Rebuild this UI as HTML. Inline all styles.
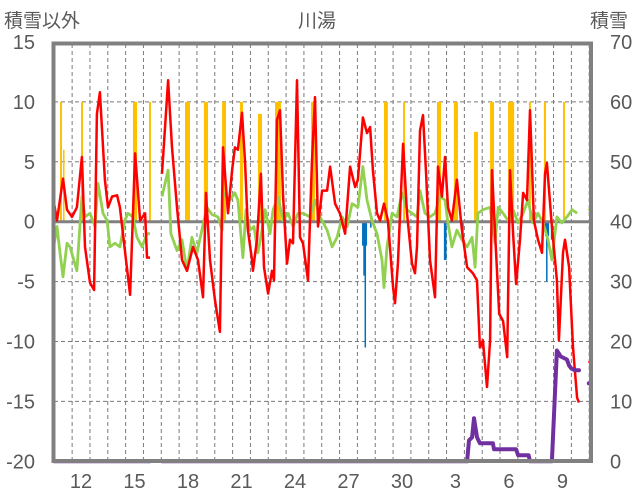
<!DOCTYPE html>
<html><head><meta charset="utf-8"><style>
html,body{margin:0;padding:0;background:#fff;}
svg{display:block;font-family:"Liberation Sans","Noto Sans CJK JP",sans-serif;}
</style></head><body>
<svg id="chart" width="636" height="501" viewBox="0 0 636 501"></svg>
<script>
// ---- data ----
const xTickLabels = ["12","15","18","21","24","27","30","3","6","9"];
const leftTicks = [15,10,5,0,-5,-10,-15,-20];
const rightTicks = [70,60,50,40,30,20,10,0];
const redT = [0,0.15,0.49,0.71,0.99,1.27,1.55,1.72,2.0,2.23,2.39,2.56,2.84,3.01,3.24,3.52,3.68,4.02,4.25,4.53,4.81,5.09,5.20,5.37,null,6.04,6.38,6.60,6.88,7.16,7.44,7.78,8.06,8.34,8.51,8.73,9.01,9.29,9.46,9.74,9.97,10.13,10.30,10.53,10.70,10.86,11.09,11.14,11.37,11.59,11.76,11.99,12.21,12.32,12.49,12.66,12.83,13.05,13.22,13.39,13.61,13.78,13.95,14.23,14.45,14.62,14.79,15.02,15.30,15.47,15.75,16.02,16.31,16.59,16.87,17.03,17.31,17.54,17.71,17.87,18.10,18.27,18.49,18.71,19.00,19.11,19.27,19.56,19.78,20.06,20.23,20.34,20.51,20.68,20.85,21.07,21.35,21.52,21.74,21.91,22.08,22.30,22.58,22.86,23.15,23.48,23.71,23.87,24.04,24.27,24.44,24.55,24.72,24.95,25.17,25.40,25.56,25.73,25.90,26.12,26.29,26.51,26.68,26.90,27.13,27.35,27.52,27.63,27.91,28.19,28.30,28.53,28.64,28.87,29.09,29.32,29.43,null,29.99,30.16];
const redV = [1.4,0.1,3.6,1.0,0.4,1.2,5.4,-2.1,-5.1,-5.7,9.0,10.8,3.5,1.2,2.1,2.2,1.2,-3.2,-6.1,5.7,0.1,0.7,-3.0,-3.0,null,4.0,11.8,6.2,1.2,-3.2,-4.1,-2.1,-3.2,-6.3,2.4,-3.2,-6.5,-9.2,6.2,0.7,4.3,6.2,6.0,9.1,4.9,-0.7,-3.2,-4.1,-1.5,4.0,-3.8,-6.0,-4.1,-4.9,8.5,9.3,2.1,-3.5,-1.5,-1.8,11.8,-1.3,-1.8,-4.9,4.9,10.4,-0.4,2.6,2.6,4.6,1.5,0.7,-1.0,4.6,2.9,3.5,8.7,7.4,7.9,4.3,0.7,0.1,1.5,0.1,-5.5,-6.8,-3.5,6.5,0.7,-3.5,-4.3,-2.1,7.6,8.9,4.0,-3.2,-6.3,4.6,2.1,5.4,1.2,0.1,3.5,-0.7,-3.8,-4.3,-4.9,-10.5,-9.9,-13.8,-9.9,4.3,-1.0,-7.7,-8.3,-11.3,4.3,-1.0,-5.2,-1.5,2.4,1.8,9.3,0.1,-1.5,-2.6,4.0,4.9,-0.4,-4.9,-9.9,-2.6,-1.5,-3.8,-10.5,-14.7,-15.1,null,-11.8,-11.3];
const greenT = [0,0.15,0.32,0.49,0.71,0.88,1.27,1.55,1.72,2.0,2.28,2.45,2.73,2.96,3.12,3.40,3.68,3.96,4.13,4.41,4.64,4.92,5.20,5.37,null,6.04,6.38,6.54,6.88,7.16,7.44,7.72,8.00,8.28,8.56,8.84,9.18,9.41,9.46,9.85,10.13,10.30,10.58,10.75,10.98,11.20,11.42,11.65,11.82,12.10,12.27,12.55,12.83,13.11,13.39,13.67,13.95,14.34,14.62,14.90,15.30,15.58,15.86,16.14,16.42,16.70,17.03,17.31,17.54,17.82,18.10,18.38,18.49,18.66,18.94,19.22,19.50,19.78,20.06,20.34,20.51,20.79,21.07,21.35,21.63,21.91,22.08,22.30,22.58,22.86,23.15,23.43,23.60,23.76,24.04,24.44,24.72,24.89,25.17,25.45,25.73,26.01,26.29,26.57,26.85,27.13,27.41,27.69,27.91,28.19,28.47,28.75,29.04,29.32,null,30.0,30.08];
const greenV = [-1.8,-0.4,-2.6,-4.6,-1.8,-2.1,-4.1,2.1,0.4,0.7,-0.4,3.2,0.7,0.1,-2.1,-1.8,-2.1,0.1,0.7,0.4,-1.3,-2.1,-1.0,-1.0,null,2.1,4.3,-1.0,-2.4,-1.5,-4.1,-1.3,-2.6,-0.7,1.2,0.6,0.4,-0.7,2.4,1.8,2.4,1.8,-3.0,1.0,-0.7,-0.4,-2.6,-0.7,1.0,-1.0,1.0,2.1,0.1,0.7,-0.4,0.7,0.7,0.4,1.8,0.4,-0.7,-2.1,-1.3,0.4,-0.4,1.5,1.2,4.6,1.8,0.1,-1.0,-3.2,-5.5,-2.1,0.7,0.4,2.4,1.0,0.7,0.4,2.6,0.7,0.4,0.7,2.1,1.8,-0.1,-2.1,-0.7,-1.5,-2.1,-1.3,-3.8,0.7,1.0,1.2,-1.8,1.2,0.7,0.1,1.0,-0.1,0.7,1.8,-0.1,0.7,-0.1,-1.5,-3.2,0.4,-0.1,0.4,1.0,0.7,null,0.9,1.2];
const yellowStart = [0.32,0.49,1.50,4.41,5.31,7.33,8.39,9.41,10.41,11.42,12.38,14.40,18.49,19.56,21.46,22.41,23.54,24.44,25.45,26.62,27.46,28.53];
const yellowEnd   = [0.43,0.54,1.61,4.64,5.42,7.61,8.62,9.63,10.58,11.65,12.71,14.62,18.71,19.67,21.69,22.64,23.76,24.66,25.79,26.73,27.58,28.64];
const yellowV     = [10,6,10,10,10,10,10,10,10,9,10,10,10,10,10,10,7.5,10,10,10,10,10];
const blueStart = [17.26,17.33,17.40,17.71,21.85,22.84,27.52,27.58,27.85];
const blueEnd   = [17.54,17.48,17.46,17.77,22.00,22.96,27.75,27.66,27.95];
const blueV     = [-2.0,-4.5,-10.5,-0.5,-3.2,-1.5,-1.2,-5.0,-1.5];
const snowT = [0,5.37,null,6.04,23.15,23.26,23.43,23.54,23.71,23.87,24.60,24.66,25.90,26.01,26.60,26.68,27.91,28.19,28.40,28.75,28.87,29.00,29.20,29.43,null,29.98,30.06];
const snowV = [0,0,null,0,0,3.5,4,7.2,4,3,3,2,2,1,1,0,0,18.5,17.5,17,16,15.5,15.2,15.2,null,13,13];

// ---- scales ----
const X0=54.3, DX=17.83;
const x = t => X0 + t*DX;
const yL = v => 221.7 - 11.98*v;
const yR = v => 461.3 - 5.99*v;
const NS="http://www.w3.org/2000/svg";
const svg=document.getElementById('chart');
function mk(tag, attrs, parent){const e=document.createElementNS(NS,tag);for(const k in attrs)e.setAttribute(k,attrs[k]);(parent||svg).appendChild(e);return e;}
function pathFrom(T,V,sy){let d="",pen=false;for(let i=0;i<T.length;i++){if(T[i]===null||V[i]===null){pen=false;continue;}d+=(pen?"L":"M")+x(T[i]).toFixed(1)+","+sy(V[i]).toFixed(1);pen=true;}return d;}

// grid
const grid=mk('g',{});


leftTicks.forEach(v=>{ if(v!==0&&v!==15&&v!==-20){const l=mk('line',{x1:54,x2:591,y1:yL(v),y2:yL(v),stroke:'#7a7a7a','stroke-width':1,'stroke-dasharray':'4,3'},grid);

}});
for(let i=1;i<=30;i++){const l=mk('line',{x1:x(i),x2:x(i),y1:44,y2:460,stroke:'#7a7a7a','stroke-width':1,'stroke-dasharray':'4,3'},grid);

}

// yellow bars
yellowStart.forEach((s,i)=>{const r=mk('rect',{x:x(s),y:yL(yellowV[i]),width:Math.max(1.5,x(yellowEnd[i])-x(s)),height:yL(0)-yL(yellowV[i]),fill:'#FFC000'});

});
// blue bars
blueStart.forEach((s,i)=>{const r=mk('rect',{x:x(s),y:yL(0),width:Math.max(1.5,x(blueEnd[i])-x(s)),height:yL(blueV[i])-yL(0),fill:'#0070C0'});

});

// zero line
const z=mk('line',{x1:54,x2:591,y1:yL(0),y2:yL(0),stroke:'#808080','stroke-width':3});



// green
const g=mk('path',{d:pathFrom(greenT,greenV,yL),fill:'none',stroke:'#92D050','stroke-width':2.8,'stroke-linejoin':'round'});


// red
const r=mk('path',{d:pathFrom(redT,redV,yL),fill:'none',stroke:'#FF0000','stroke-width':2.5,'stroke-linejoin':'round'});


// purple
const p=mk('path',{d:pathFrom(snowT,snowV,yR),fill:'none',stroke:'#7030A0','stroke-width':4,'stroke-linejoin':'round','stroke-linecap':'round'});



// frame
const f=mk('rect',{x:53.5,y:43.5,width:537.5,height:417.5,fill:'none',stroke:'#808080','stroke-width':4});



// tick labels
leftTicks.forEach(v=>{const t=mk('text',{x:35,y:yL(v)+7,'text-anchor':'end','font-size':20,fill:'#595959'});t.textContent=v;

});
rightTicks.forEach(v=>{const t=mk('text',{x:610,y:yR(v)+7,'text-anchor':'start','font-size':20,fill:'#595959'});t.textContent=v;

});
xTickLabels.forEach((lab,i)=>{const t=mk('text',{x:x(1.5+3*i),y:488,'text-anchor':'middle','font-size':20,fill:'#595959'});t.textContent=lab;

});
</script>
<div style="position:absolute;left:0;top:0;width:636px;height:501px;pointer-events:none;font-family:'Liberation Sans','Noto Sans CJK JP',sans-serif;color:#595959;font-size:19px;">
<div style="position:absolute;left:4px;top:6px;">積雪以外</div>
<div style="position:absolute;left:298px;top:6px;">川湯</div>
<div style="position:absolute;left:590px;top:6px;">積雪</div>
</div>
</body></html>
